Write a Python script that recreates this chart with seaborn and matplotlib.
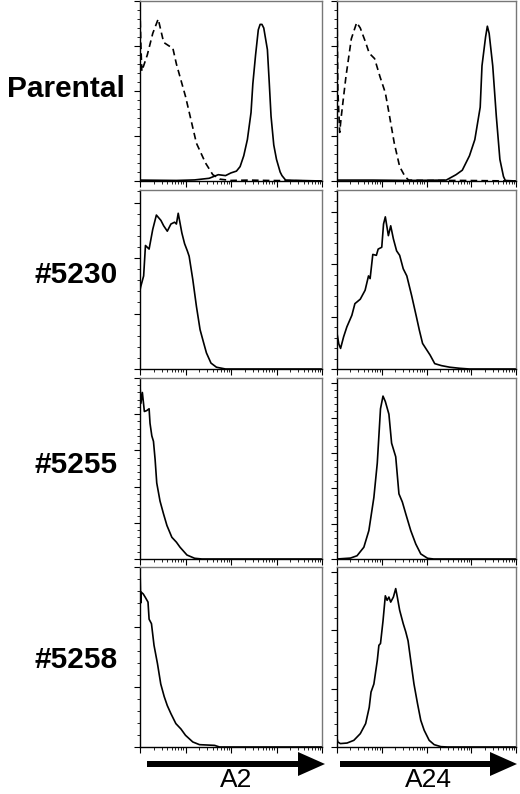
import numpy as np
import pandas as pd
import matplotlib
matplotlib.use("Agg")
import matplotlib.pyplot as plt
from matplotlib.ticker import LogLocator, MultipleLocator, NullFormatter
import seaborn as sns

sns.set_theme(style="ticks")
plt.rcParams["font.family"] = ["Liberation Sans", "DejaVu Sans"]

# ---------------- data (x: fraction of the 4-decade log axis, y: % of panel height) -------------
rows = ["Parental", "#5230", "#5255", "#5258"]
cols = ["A2", "A24"]

par_a2_iso_x = [0, 0.005, 0.01, 0.04, 0.07, 0.10, 0.13, 0.16, 0.18, 0.20, 0.25, 0.28, 0.31, 0.36, 0.40, 0.44, 0.5, 0.6, 0.7, 0.8, 1.0]
par_a2_iso_y = [95, 75, 61, 70, 82, 90, 77, 75, 74, 65, 47, 34, 21, 10, 3.5, 1, 0.3, 0.5, 0.3, 0.2, 0]
par_a2_x = [0, 0.2, 0.3, 0.38, 0.43, 0.47, 0.50, 0.53, 0.55, 0.57, 0.59, 0.61, 0.62, 0.635, 0.65, 0.66, 0.67, 0.68, 0.70, 0.71, 0.72, 0.735, 0.75, 0.77, 0.78, 0.80, 1.0]
par_a2_y = [0.5, 0.3, 0.6, 1.5, 3.5, 3, 4.5, 5.5, 8, 14, 23, 38, 54, 70, 84, 87, 87, 85, 73, 55, 36, 20, 12, 5, 3, 0.5, 0]

par_a24_iso_x = [0, 0.005, 0.015, 0.024, 0.05, 0.08, 0.11, 0.13, 0.16, 0.18, 0.21, 0.24, 0.27, 0.29, 0.32, 0.35, 0.38, 0.40, 0.5, 0.7, 1.0]
par_a24_iso_y = [96, 50, 27, 36, 58, 79, 88, 85, 77, 71, 68, 58, 49, 38, 21, 8, 2.5, 0.5, 0.3, 0.3, 0]
par_a24_x = [0, 0.2, 0.4, 0.61, 0.665, 0.70, 0.74, 0.77, 0.80, 0.81, 0.83, 0.84, 0.85, 0.87, 0.89, 0.91, 0.93, 0.94, 1.0]
par_a24_y = [0.5, 0.5, 0.3, 0.5, 3.5, 6, 14, 23, 41, 64, 80, 86, 82, 64, 36, 12, 2.5, 0.3, 0]

c5230_a2_x = [0, 0.004, 0.02, 0.03, 0.05, 0.07, 0.09, 0.115, 0.13, 0.15, 0.17, 0.19, 0.20, 0.21, 0.23, 0.245, 0.26, 0.27, 0.29, 0.31, 0.33, 0.35, 0.365, 0.39, 0.42, 0.47, 1.0]
c5230_a2_y = [44, 46, 52, 69, 67, 78, 86, 83, 80, 77, 81, 82, 81, 87, 76, 70, 66, 63, 50, 35, 22, 14.5, 9, 3.3, 1, 0, 0]
c5230_a24_x = [0, 0.01, 0.02, 0.037, 0.055, 0.083, 0.10, 0.13, 0.157, 0.176, 0.185, 0.20, 0.22, 0.23, 0.25, 0.26, 0.27, 0.287, 0.30, 0.315, 0.333, 0.35, 0.37, 0.39, 0.417, 0.444, 0.46, 0.478, 0.496, 0.52, 0.546, 0.583, 0.63, 0.685, 0.74, 1.0]
c5230_a24_y = [20, 14, 11.5, 18, 23.5, 30, 36.5, 39, 44, 52, 50.5, 64, 63.5, 67, 68, 81, 85, 74.5, 80, 72.7, 66, 63.5, 56, 52, 41, 29, 21.7, 14.3, 11.5, 7.8, 3, 1.9, 1, 0.4, 0, 0]

c5255_a2_x = [0, 0.005, 0.013, 0.024, 0.037, 0.05, 0.055, 0.065, 0.074, 0.083, 0.092, 0.11, 0.129, 0.148, 0.175, 0.20, 0.22, 0.258, 0.30, 0.34, 1.0]
c5255_a2_y = [96, 86, 92, 81.5, 82, 83, 75, 68, 65, 55, 42, 32, 25, 18.5, 12, 9.3, 6.5, 2.2, 0.4, 0, 0]
c5255_a24_x = [0, 0.075, 0.112, 0.15, 0.178, 0.206, 0.225, 0.243, 0.257, 0.27, 0.29, 0.305, 0.328, 0.346, 0.365, 0.384, 0.412, 0.44, 0.468, 0.506, 0.54, 1.0]
c5255_a24_y = [0, 0.5, 1.8, 6.5, 15.7, 34, 53, 83, 90, 87, 80, 64, 56.5, 36, 31.5, 25, 15.7, 8.3, 2.8, 0.4, 0, 0]

c5258_a2_x = [0, 0.004, 0.007, 0.018, 0.03, 0.044, 0.05, 0.063, 0.077, 0.096, 0.114, 0.133, 0.15, 0.17, 0.197, 0.225, 0.25, 0.29, 0.327, 0.41, 0.437, 1.0]
c5258_a2_y = [99, 80, 86, 85, 83, 80.5, 71, 68.5, 56.5, 46.3, 35, 28, 23, 18.5, 13, 10, 6.5, 2.8, 1.3, 0.9, 0, 0]
c5258_a24_x = [0, 0.004, 0.019, 0.056, 0.094, 0.13, 0.16, 0.18, 0.19, 0.206, 0.225, 0.234, 0.243, 0.257, 0.27, 0.28, 0.29, 0.30, 0.315, 0.328, 0.337, 0.35, 0.37, 0.384, 0.397, 0.412, 0.43, 0.45, 0.468, 0.487, 0.515, 0.543, 0.58, 0.618, 1.0]
c5258_a24_y = [5, 2.8, 1.9, 2.2, 3.7, 7.4, 13, 22, 30.5, 35, 48, 56.5, 57.5, 70, 84, 81.5, 83.3, 80.5, 83.3, 88, 83.3, 76, 68.5, 64, 59, 48, 35, 24, 14.8, 9.3, 3.7, 1.3, 0.2, 0, 0]

# y major tick spacing (in % of panel height) per panel
ytick_step = [[25, 25], [31, 29.3], [20, 19.5], [33.3, 32.5]]

series = [
    (0, 0, "isotype", par_a2_iso_x, par_a2_iso_y), (0, 0, "stain", par_a2_x, par_a2_y),
    (0, 1, "isotype", par_a24_iso_x, par_a24_iso_y), (0, 1, "stain", par_a24_x, par_a24_y),
    (1, 0, "stain", c5230_a2_x, c5230_a2_y), (1, 1, "stain", c5230_a24_x, c5230_a24_y),
    (2, 0, "stain", c5255_a2_x, c5255_a2_y), (2, 1, "stain", c5255_a24_x, c5255_a24_y),
    (3, 0, "stain", c5258_a2_x, c5258_a2_y), (3, 1, "stain", c5258_a24_x, c5258_a24_y),
]

recs = []
for r, c, kind, xs, ys in series:
    for i, (xv, yv) in enumerate(zip(xs, ys)):
        recs.append(dict(row=r, col=c, kind=kind, order=i, fl=10 ** (4 * xv), count=yv))
df = pd.DataFrame(recs)

W, H = 520, 794
fig = plt.figure(figsize=(W / 100, H / 100), dpi=100)

# overlay in pixel coordinates for labels & arrows
ov = fig.add_axes([0, 0, 1, 1])
ov.set_xlim(0, W)
ov.set_ylim(H, 0)
ov.axis("off")

col_x = [(140, 322), (337, 516)]
row_y = [(1, 181), (190, 369), (378, 559), (567, 747)]

for r in range(4):
    for c in range(2):
        x0, x1 = col_x[c]
        y0, y1 = row_y[r]
        ax = fig.add_axes([x0 / W, 1 - y1 / H, (x1 - x0) / W, (y1 - y0) / H])
        sub = df[(df.row == r) & (df.col == c)]
        sns.lineplot(data=sub, x="fl", y="count", style="kind", units="kind", estimator=None,
                     sort=False, color="black", linewidth=1.2,
                     dashes={"stain": "", "isotype": (4, 2.5)}, legend=False, ax=ax)
        ax.set_xscale("log")
        ax.set_xlim(1, 1e4)
        ax.set_ylim(0, 100)
        ax.xaxis.set_major_locator(LogLocator(base=10, numticks=10))
        ax.xaxis.set_minor_locator(LogLocator(base=10, subs=np.arange(2, 10), numticks=50))
        ax.xaxis.set_major_formatter(NullFormatter())
        ax.xaxis.set_minor_formatter(NullFormatter())
        step = ytick_step[r][c]
        ax.yaxis.set_major_locator(MultipleLocator(step))
        ax.yaxis.set_minor_locator(MultipleLocator(step / 5))
        ax.yaxis.set_major_formatter(NullFormatter())
        ax.set_xlabel("")
        ax.set_ylabel("")
        ax.tick_params(which="major", direction="out", length=4, width=0.8, color="black")
        ax.tick_params(which="minor", direction="out", length=2, width=0.6, color="black")
        ax.tick_params(top=False, right=False, labelbottom=False, labelleft=False)
        for s in ["left", "bottom"]:
            ax.spines[s].set_color("black")
            ax.spines[s].set_linewidth(1.0)
        for s in ["top", "right"]:
            ax.spines[s].set_color("#777777")
            ax.spines[s].set_linewidth(1.0)
            ax.spines[s].set_visible(True)

# row labels
label_y = [89, 275, 465, 660]
label_x = [125, 118, 118, 118]
for name, lx, ly in zip(rows, label_x, label_y):
    ov.text(lx, ly, name, ha="right", va="center", fontsize=21.5, fontweight="bold", color="black")

# arrows and column labels
arrows = [(147, 325), (340, 517)]
col_label_x = [236, 428]
for (ax0, ax1), name, cx in zip(arrows, cols, col_label_x):
    ov.arrow(ax0, 764, ax1 - ax0 - 27, 0, width=6, head_width=24, head_length=27,
             length_includes_head=False, color="black", lw=0)
    ov.text(cx, 792, name, ha="center", va="bottom", fontsize=19, color="black")

fig.savefig("out.png", dpi=100)
